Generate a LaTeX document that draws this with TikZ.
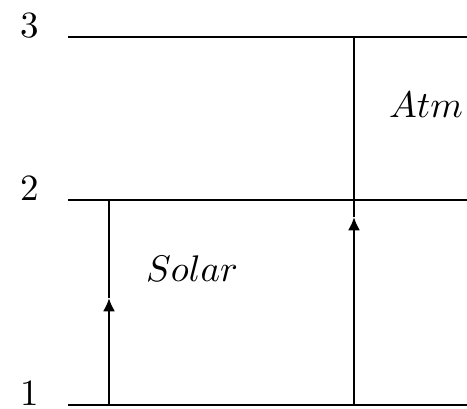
\documentclass[tikz,border=0pt]{standalone}
\usetikzlibrary{arrows.meta,calc}

\begin{document}
\begin{tikzpicture}[x=0.27pt,y=-0.27pt,
  niveau/.style={line width=0.8pt},
  transition/.style={line width=0.8pt},
  pointe/.style={line width=0.8pt,-{Latex[length=3.6pt,width=3.3pt]}},
  etiquette/.style={inner sep=0pt,anchor=base east}]
  \useasboundingbox (0,0) rectangle (467,408);

  % niveaux
  \coordinate (N3a) at (68,37);  \coordinate (N3b) at (467,37);
  \coordinate (N2a) at (68,200); \coordinate (N2b) at (467,200);
  \coordinate (N1a) at (68,405); \coordinate (N1b) at (467,405);
  \draw[niveau] (N3a) -- (N3b);
  \draw[niveau] (N2a) -- (N2b);
  \draw[niveau] (N1a) -- (N1b);
  \node[etiquette] (L3) at (40,37) {3};
  \node[etiquette] (L2) at (40,200) {2};
  \node[etiquette] (L1) at (40,405) {1};

  % transitions
  \coordinate (S1) at (109,405); \coordinate (Sm) at (109,298); \coordinate (S2) at (109,200);
  \coordinate (A1) at (354,405); \coordinate (Am) at (354,217); \coordinate (A3) at (354,37);
  \draw[pointe] (S1) -- (Sm);
  \draw[transition] (Sm) -- (S2);
  \draw[pointe] (A1) -- (Am);
  \draw[transition] (Am) -- (A3);

  \node[inner sep=0pt,anchor=base] (Sol) at (192,281) {$Solar$};
  \node[inner sep=0pt,anchor=base] (Atm) at (426,117) {$Atm$};
\end{tikzpicture}
\end{document}
